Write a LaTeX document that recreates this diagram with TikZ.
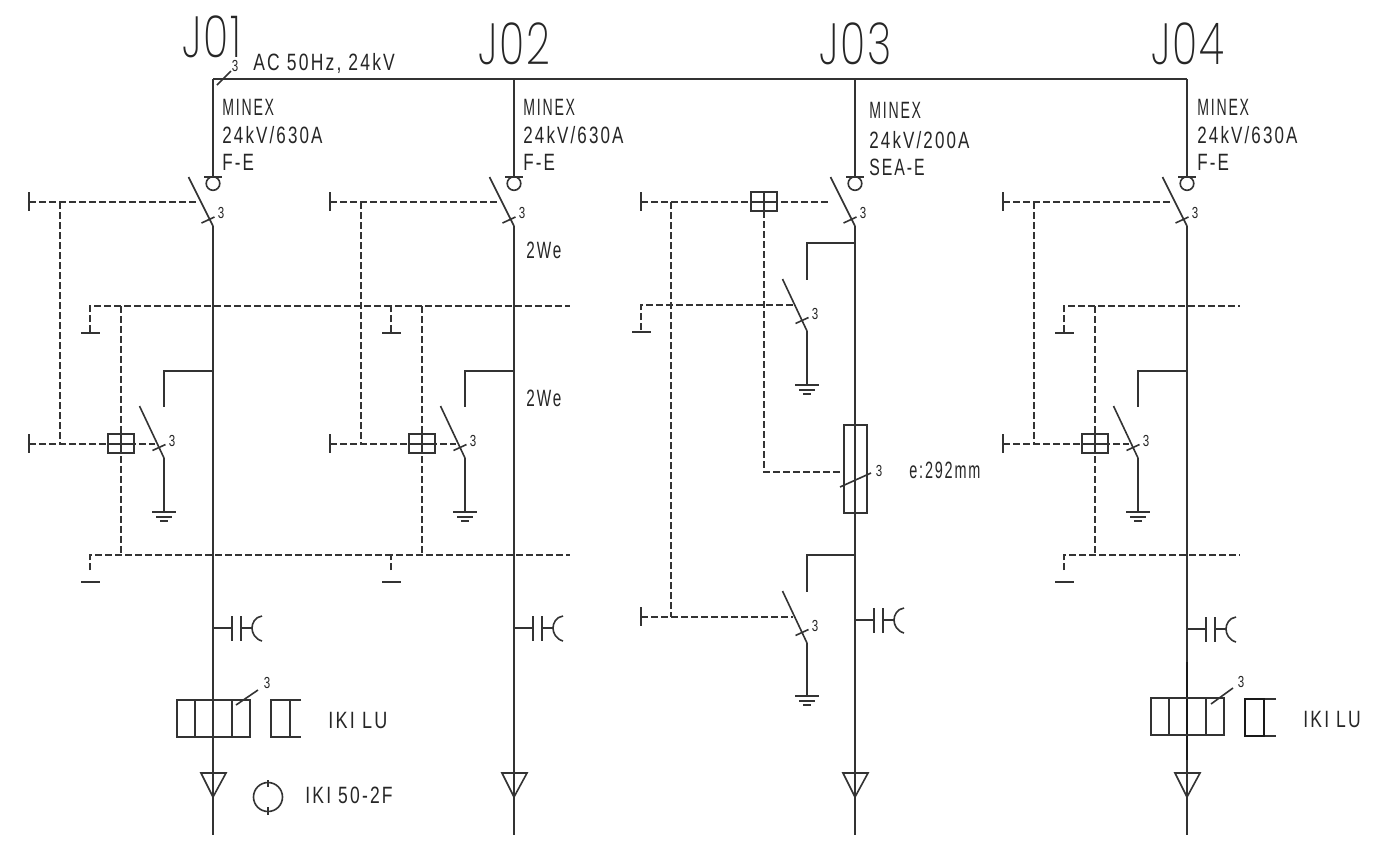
\documentclass[tikz,border=0pt]{standalone}
\usepackage{fontspec}
\usepackage{graphicx}
\setmainfont[FakeStretch=0.72,LetterSpace=9]{Liberation Sans}
\newfontfamily\thinf[UprightFont={* ExtraLight},FakeStretch=0.72,LetterSpace=3]{Poppins}
\tikzset{
  ln/.style={line width=0.8pt,draw=black!80},
  dsh/.style={line width=0.8pt,draw=black!80,dash pattern=on 3.5pt off 1.5pt},
  lbl/.style={inner sep=0pt,anchor=west,text=black!85,font=\fontsize{11.8}{14}\selectfont},
  big/.style={inner sep=0pt,anchor=west,text=black!85,font=\thinf\fontsize{29}{30}\selectfont},
  tiny3/.style={inner sep=0pt,text=black!85,font=\fontsize{8}{9}\selectfont}
}
% switch blade: x of contact, y top, y end, y of tick
\newcommand{\blade}[5]{%
  \draw[ln] (#1-24.5,#2) -- (#1,#3);
  \draw[ln] (#1-11.5,#4+3) -- (#1+1.5,#4-3);
  \node[tiny3] (#5) at (#1+8,#4-7) {3};
}
\newcommand{\earth}[2]{%
  \draw[ln] (#1-12,#2) -- (#1+12,#2);
  \draw[ln] (#1-8,#2+5) -- (#1+8,#2+5);
  \draw[ln] (#1-4,#2+9) -- (#1+4,#2+9);
}
\newcommand{\xbox}[2]{%
  \draw[ln] (#1-13,#2-10) rectangle (#1+13,#2+9);
  \draw[ln] (#1-13,#2) -- (#1+13,#2);
  \draw[ln] (#1,#2-10) -- (#1,#2+9);
}
\newcommand{\vterm}[2]{\draw[ln] (#1,#2-10) -- (#1,#2+9);}
\newcommand{\hterm}[2]{\draw[ln] (#1-9,#2) -- (#1+10,#2);}
\newcommand{\capsym}[2]{%
  \draw[ln] (#1,#2) -- (#1+19,#2);
  \draw[ln] (#1+19,#2-12) -- (#1+19,#2+13);
  \draw[ln] (#1+28,#2-12) -- (#1+28,#2+13);
  \draw[ln] (#1+28,#2) -- (#1+39,#2);
  \draw[ln] (#1+49,#2-12) .. controls (#1+42,#2-11) and (#1+39,#2-5) .. (#1+39,#2)
            .. controls (#1+39,#2+5) and (#1+42,#2+11) .. (#1+49,#2+13);
}
\newcommand{\cable}[1]{\draw[ln] (#1-12,773) -- (#1+13,773) -- (#1,797) -- cycle;}
\newcommand{\topsw}[2]{%
  \draw[ln] (#1-9,177) -- (#1+9,177);
  \draw[ln] (#1,183.5) circle (6.8);
  \draw[ln] (#1,79) -- (#1,177);
  \blade{#1}{177}{226}{220}{#2}
}
% the repeated interlock block of feeders J01, J02, J04; #1 = x of main line minus 213
\newcommand{\feeder}[2]{%
 \begin{scope}[xshift=#1*0.5pt]
  \draw[dsh] (29,202) -- (199,202);
  \vterm{29}{202}
  \draw[dsh] (60,202) -- (60,444);
  \draw[dsh] (90,332) -- (90,306) -- (#2,306);
  \hterm{90}{333}
  \draw[dsh] (121,306) -- (121,555);
  \draw[dsh] (29,444) -- (155,444);
  \vterm{29}{444}
  \xbox{121}{444}
  \draw[ln] (213,371) -- (164,371) -- (164,407);
  \blade{164}{406}{458}{447.5}{t#1}
  \draw[ln] (164,458) -- (164,512);
  \earth{164}{512}
  \draw[dsh] (90,570) -- (90,555) -- (#2,555);
  \hterm{90}{582}
  \draw[ln] (213,226) -- (213,835);
 \end{scope}
}
\begin{document}
\begin{tikzpicture}[x=0.5pt,y=-0.5pt]
\useasboundingbox (0,0) rectangle (1382,843);
\fill[white] (0,0) rectangle (1382,843);
% bus
\draw[ln] (213,79) -- (1187,79);
\draw[ln] (217,85) -- (231,71);
\node[tiny3] (bus3) at (235,66) {3};
\node[big] (j1) at (182,37) {J01};
\node[big] (j2) at (478,44) {J02};
\node[big] (j3) at (819,44) {J03};
\node[big] (j4) at (1151,44) {J04};
\node[lbl] (ac) at (253,63) {\scalebox{1.03}[1]{AC 50Hz, 24kV}};
% labels
\node[lbl] (a1) at (222,107) {\scalebox{.83}[1]{MINEX}};
\node[lbl] (a2) at (222,135) {24kV/630A};
\node[lbl] (a3) at (222,162) {F-E};
\node[lbl] (b1) at (523,107) {\scalebox{.83}[1]{MINEX}};
\node[lbl] (b2) at (523,135) {24kV/630A};
\node[lbl] (b3) at (523,162) {F-E};
\node[lbl] (c1) at (869,110) {\scalebox{.83}[1]{MINEX}};
\node[lbl] (c2) at (869,140) {24kV/200A};
\node[lbl] (c3) at (869,167) {\scalebox{.93}[1]{SEA-E}};
\node[lbl] (d1) at (1197,107) {\scalebox{.83}[1]{MINEX}};
\node[lbl] (d2) at (1197,135) {24kV/630A};
\node[lbl] (d3) at (1197,162) {F-E};
\node[lbl] (w1) at (526,250) {\scalebox{.9}[1]{2We}};
\node[lbl] (w2) at (526,398) {\scalebox{.9}[1]{2We}};
\node[lbl] (e) at (909,470) {\scalebox{.85}[1]{e:292mm}};
% top switches
\topsw{213}{sa}
\topsw{514}{sb}
\topsw{855}{sc}
\topsw{1187}{sd}
% feeders
\feeder{0}{391}
\feeder{301}{269}
\feeder{974}{266}
% J03
\draw[ln] (855,226) -- (855,835);
\draw[dsh] (641,202) -- (828,202);
\vterm{641}{202}
\xbox{764}{202}
\draw[dsh] (671,202) -- (671,617);
\draw[dsh] (764,211) -- (764,472) -- (844,472);
\draw[ln] (855,243) -- (807,243) -- (807,280);
\blade{807}{279}{331}{320.5}{se}
\draw[ln] (807,331) -- (807,385);
\earth{807}{385}
\draw[dsh] (641,330) -- (641,305) -- (793,305);
\hterm{641}{332}
\draw[ln] (844,425) rectangle (867,513);
\draw[ln] (840,487) -- (871,473);
\node[tiny3] (f3) at (879,471) {3};
\draw[ln] (855,555) -- (807,555) -- (807,592);
\blade{807}{591}{643}{632.5}{sf}
\draw[ln] (807,643) -- (807,696);
\earth{807}{696}
\draw[dsh] (641,617) -- (793,617);
\vterm{641}{617}
\capsym{855}{620}
% caps
\capsym{213}{628}
\capsym{514}{628}
\capsym{1187}{629}
% cables
\cable{213}
\cable{514}
\cable{855}
\cable{1187}
% IKI LU J01
\draw[ln] (177,700) rectangle (250,737);
\draw[ln] (195,700) -- (195,737);
\draw[ln] (232,700) -- (232,737);
\draw[ln] (236,705) -- (258,690);
\node[tiny3] (l3) at (267,683) {3};
\draw[ln] (301,700) -- (271,700) -- (271,737) -- (301,737);
\draw[ln] (290,700) -- (290,737);
\node[lbl] (l) at (328,720) {\scalebox{1.06}[1]{IKI LU}};
% IKI 50
\draw[ln] (268,797) circle (14.5);
\draw[ln] (268,780) -- (268,787);
\draw[ln] (268,807) -- (268,815);
\node[lbl] (ik) at (305,795) {\scalebox{1.03}[1]{IKI 50-2F}};
% IKI LU J04
\draw[line width=1.1pt,draw=black!90] (1187,662) -- (1187,760);
\draw[ln] (1151,698) rectangle (1224,735);
\draw[ln] (1169,698) -- (1169,735);
\draw[ln] (1206,698) -- (1206,735);
\draw[ln] (1211,704) -- (1233,688);
\node[tiny3] (m3) at (1241,682) {3};
\draw[ln] (1276,699) -- (1245,699) -- (1245,736) -- (1276,736);
\draw[line width=1.1pt,draw=black!90] (1245,699) rectangle (1264,736);
\node[lbl] (m) at (1303,719) {\scalebox{1.03}[1]{IKI LU}};
\end{tikzpicture}
\end{document}
